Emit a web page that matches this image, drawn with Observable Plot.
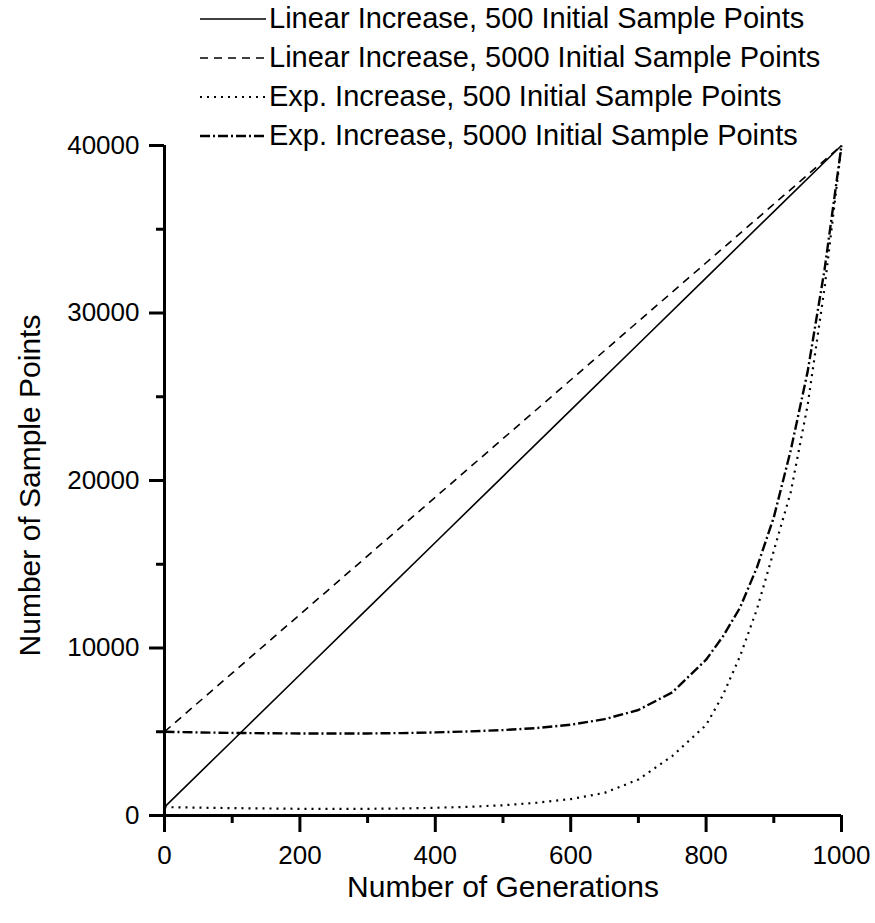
<!DOCTYPE html>
<html>
<head>
<meta charset="utf-8">
<script src="https://cdn.jsdelivr.net/npm/d3@7"></script>
<script src="https://cdn.jsdelivr.net/npm/@observablehq/plot@0.6"></script>
<style>
  html, body { margin: 0; padding: 0; background: #fff; }
  body { width: 875px; height: 923px; overflow: hidden; position: relative; font-family: "Liberation Sans", Arial, sans-serif; }
  #legend { position: absolute; left: 0; top: 0; width: 875px; height: 160px; z-index: 2; pointer-events: none; }
  #chart { position: absolute; left: 0; top: 130px; z-index: 1; }
  .row { position: absolute; display: flex; align-items: center; height: 39px; line-height: 39px; font-size: 29px; color: #000; white-space: nowrap; }
  .row svg { display: block; margin-right: 3px; }
</style>
</head>
<body>
<div id="chart"></div>
<div id="legend"></div>
<script>
// ---- data ----
const seriesNames = [
  "Linear Increase, 500 Initial Sample Points",
  "Linear Increase, 5000 Initial Sample Points",
  "Exp. Increase, 500 Initial Sample Points",
  "Exp. Increase, 5000 Initial Sample Points"
];
const linearGenerations = [0, 100, 200, 300, 400, 500, 600, 700, 800, 900, 1000];
const linear500 = [500, 4450, 8400, 12350, 16300, 20250, 24200, 28150, 32100, 36050, 40000];
const linear5000 = [5000, 8500, 12000, 15500, 19000, 22500, 26000, 29500, 33000, 36500, 40000];
const expGenerations = [0, 50, 100, 150, 200, 250, 300, 350, 400, 450, 500, 550, 600, 650, 700, 750, 800, 825, 850, 875, 900, 925, 950, 975, 1000];
const exp500 = [500, 470, 440, 420, 400, 395, 400, 420, 460, 520, 610, 760, 980, 1350, 2150, 3550, 5400, 7200, 9500, 12300, 15800, 19300, 24500, 31500, 40000];
const exp5000 = [5000, 4960, 4930, 4910, 4900, 4900, 4900, 4920, 4960, 5020, 5100, 5220, 5420, 5750, 6300, 7350, 9300, 10700, 12400, 14800, 17800, 21800, 26500, 32600, 40000];
const xTicks = [0, 200, 400, 600, 800, 1000];
const xMinorTicks = [100, 300, 500, 700, 900];
const yTicks = [0, 10000, 20000, 30000, 40000];
const yMinorTicks = [5000, 15000, 25000, 35000];
const dashes = [null, "8,6", "2,5", "10,3,2,3"];
const widths = [1.6, 1.6, 2.2, 2.4];

// ---- build table ----
const rows = [];
linearGenerations.forEach((g, i) => {
  rows.push({series: seriesNames[0], x: g, y: linear500[i]});
  rows.push({series: seriesNames[1], x: g, y: linear5000[i]});
});
expGenerations.forEach((g, i) => {
  rows.push({series: seriesNames[2], x: g, y: exp500[i]});
  rows.push({series: seriesNames[3], x: g, y: exp5000[i]});
});

// ---- legend ----
const legend = document.getElementById("legend");
seriesNames.forEach((name, i) => {
  const row = document.createElement("div");
  row.className = "row";
  row.style.top = (-1 + i * 39) + "px";
  row.style.left = "200px";
  const ns = "http://www.w3.org/2000/svg";
  const s = document.createElementNS(ns, "svg");
  s.setAttribute("width", 66); s.setAttribute("height", 10);
  const l = document.createElementNS(ns, "line");
  l.setAttribute("x1", 0); l.setAttribute("x2", 66); l.setAttribute("y1", 5); l.setAttribute("y2", 5);
  l.setAttribute("stroke", "#000"); l.setAttribute("stroke-width", widths[i]);
  if (dashes[i]) l.setAttribute("stroke-dasharray", dashes[i]);
  s.appendChild(l);
  row.appendChild(s);
  const t = document.createElement("span");
  t.textContent = name;
  row.appendChild(t);
  legend.appendChild(row);
});

// ---- chart ----
const chart = Plot.plot({
  width: 875,
  height: 793,
  marginLeft: 164,
  marginRight: 34,
  marginTop: 15,
  marginBottom: 108,
  style: {fontFamily: "Liberation Sans, Arial, sans-serif", fontSize: "26px", color: "#000", background: "transparent", overflow: "visible"},
  x: {domain: [0, 1000]},
  y: {domain: [0, 40000]},
  marks: [
    Plot.axisX({ticks: xTicks, tickSize: 17, tickPadding: 13, strokeWidth: 3, tickFormat: d => String(d), label: null, fontSize: 26}),
    Plot.axisX({ticks: xMinorTicks, tickSize: 8, strokeWidth: 3, text: null, label: null}),
    Plot.axisY({ticks: yTicks, tickSize: 15, tickPadding: 10, strokeWidth: 3, tickFormat: d => String(d), label: null, fontSize: 26}),
    Plot.axisY({ticks: yMinorTicks, tickSize: 8, strokeWidth: 3, text: null, label: null}),
    Plot.ruleY([0], {strokeWidth: 3}),
    Plot.ruleX([0], {strokeWidth: 3}),
    ...seriesNames.map((name, i) => Plot.line(rows.filter(r => r.series === name), {
      x: "x", y: "y", stroke: "#000", strokeWidth: widths[i],
      strokeDasharray: dashes[i] || undefined, strokeLinecap: "butt"
    })),
    Plot.text(["Number of Generations"], {frameAnchor: "bottom", dy: 72, fontSize: 30, lineAnchor: "middle", textAnchor: "middle"}),
    Plot.text(["Number of Sample Points"], {frameAnchor: "left", dx: -134, dy: 5, rotate: -90, fontSize: 30, lineAnchor: "middle", textAnchor: "middle"})
  ]
});
document.getElementById("chart").appendChild(chart);
</script>
</body>
</html>
